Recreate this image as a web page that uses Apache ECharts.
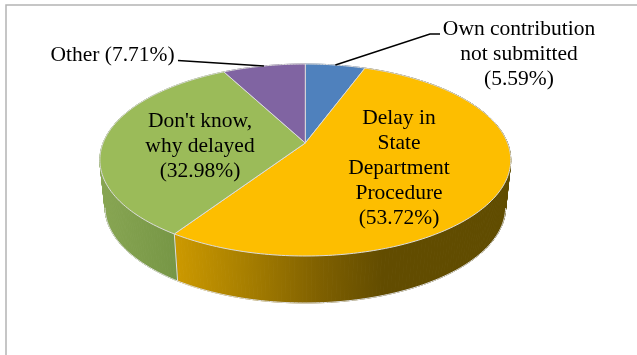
<!DOCTYPE html>
<html>
<head>
<meta charset="utf-8">
<style>html,body{margin:0;padding:0;background:#fff}#c{width:637px;height:355px}</style>
<script src="https://cdn.jsdelivr.net/npm/echarts@6/dist/echarts.min.js"></script>
</head>
<body>
<div id="c"></div>
<script>
// Shares in percent, clockwise from twelve o'clock
const categories = ['Own contribution not submitted', 'Delay in State Department Procedure', "Don't know, why delayed", 'Other'];
const shares = [5.59, 53.72, 32.98, 7.71];
const labelTexts = ['Own contribution\nnot submitted\n(5.59%)', 'Delay in\nState\nDepartment\nProcedure\n(53.72%)', "Don't know,\nwhy delayed\n(32.98%)", 'Other (7.71%)'];
const topColors = ['#4f81bd', '#fdbe00', '#9bbb59', '#8064a2'];

// Tilted disc: a perspective projection of a unit circle
const disc = { cx: 305.3, cy: 143, a: 202.2, b: 93, k: 0.177, depth: 47, shrink: 0.975 };
const project = (deg) => {
  const t = deg * Math.PI / 180;
  const w = 1 + disc.k * Math.cos(t);
  return [disc.cx + disc.a * Math.sin(t) / w, disc.cy - disc.b * Math.cos(t) / w];
};
const lower = (p) => [disc.cx + (p[0] - disc.cx) * disc.shrink, p[1] + disc.depth];

const starts = [];
shares.reduce((sum, v, i) => { starts[i] = sum * 3.6; return sum + v; }, 0);
const arcAngles = (i) => {
  const from = starts[i], to = from + shares[i] * 3.6, out = [];
  const steps = Math.ceil(to - from);
  for (let s = 0; s <= steps; s++) out.push(from + (to - from) * s / steps);
  return out;
};
const arcPoints = (i) => arcAngles(i).map(project);

const hline = (x0, x1, stops) => new echarts.graphic.LinearGradient(x0, 0, x1, 0,
  stops.map(([offset, color]) => ({ offset, color })), true);
const wallFills = [
  '#3b618e',
  hline(176, 510, [[0, '#cc9900'], [0.2, '#a98000'], [0.43, '#7f6000'], [0.62, '#624c00'], [1, '#604c00']]),
  hline(103, 178, [[0, '#87a552'], [1, '#769645']]),
  '#604b7a'
];

// The lower rim only shows between the two silhouette angles of the disc
const isFrontRim = (deg) => deg >= 100 && deg <= 260;
const rimEdge = '#dedede';

// Side wall of a slice, swept from the rim down; drawn underneath the top faces
const renderWall = (params) => {
  const i = params.dataIndex;
  const angles = arcAngles(i);
  const top = angles.map(project);
  const bottom = top.map(lower);
  const fill = wallFills[i];
  const children = [];
  for (let s = 0; s < top.length - 1; s++) {
    children.push({
      type: 'polygon',
      shape: { points: [top[s], top[s + 1], bottom[s + 1], bottom[s]] },
      style: { fill, stroke: fill, lineWidth: 1 }
    });
  }
  const visible = bottom.filter((p, s) => isFrontRim(angles[s]));
  if (visible.length > 1) {
    children.push({ type: 'polyline', shape: { points: visible }, style: { fill: 'none', stroke: rimEdge, lineWidth: 1 } });
  }
  if (isFrontRim(angles[0])) {
    children.push({ type: 'polyline', shape: { points: [top[0], bottom[0]] }, style: { fill: 'none', stroke: rimEdge, lineWidth: 1 } });
  }
  return { type: 'group', children };
};

// Top face of a slice
const renderTop = (params) => {
  const i = params.dataIndex;
  return {
    type: 'polygon',
    shape: { points: [[disc.cx, disc.cy]].concat(arcPoints(i)) },
    style: { fill: topColors[i], stroke: '#dcdcdc', lineWidth: 1 }
  };
};

// Leader lines run from the rim at mid-slice to the outer labels
const midRim = (i) => project(starts[i] + shares[i] * 1.8);
const leaders = [
  { slice: 0, via: [[430, 34], [440, 34]] },
  { slice: 3, via: [[178, 60.5]] }
];
const labelAnchors = [[519, 54], [399, 168], [200, 146.5], [112.5, 55]];
const serif = '"Liberation Serif", "Times New Roman", serif';

const chart = echarts.init(document.getElementById('c'));
chart.setOption({
  animation: false,
  backgroundColor: '#ffffff',
  graphic: [
    { type: 'polyline', silent: true, shape: { points: [[6, 355], [6, 5], [637, 5]] }, style: { fill: 'none', stroke: '#b4b4b4', lineWidth: 1.5 } }
  ],
  series: [
    { type: 'custom', name: 'walls', coordinateSystem: 'none', z: 1, silent: true, data: shares.map((v) => [v]), renderItem: renderWall },
    { type: 'custom', name: 'tops', coordinateSystem: 'none', z: 2, silent: true, data: shares.map((v, i) => ({ name: categories[i], value: [v] })), renderItem: renderTop },
    {
      type: 'custom', name: 'leaders', coordinateSystem: 'none', z: 3, silent: true,
      data: leaders.map((l) => [l.slice]),
      renderItem: (params) => {
        const l = leaders[params.dataIndex];
        return { type: 'polyline', shape: { points: [midRim(l.slice)].concat(l.via) }, style: { fill: 'none', stroke: '#000', lineWidth: 1.4 } };
      }
    },
    {
      type: 'custom', name: 'labels', coordinateSystem: 'none', z: 4, silent: true,
      data: shares.map((v) => [v]),
      renderItem: (params) => {
        const i = params.dataIndex;
        return {
          type: 'text',
          style: {
            text: labelTexts[i], x: labelAnchors[i][0], y: labelAnchors[i][1],
            fill: '#000', font: '21.5px ' + serif, lineHeight: 25,
            align: 'center', verticalAlign: 'middle', textAlign: 'center', textVerticalAlign: 'middle'
          }
        };
      }
    }
  ]
});
</script>
</body>
</html>
